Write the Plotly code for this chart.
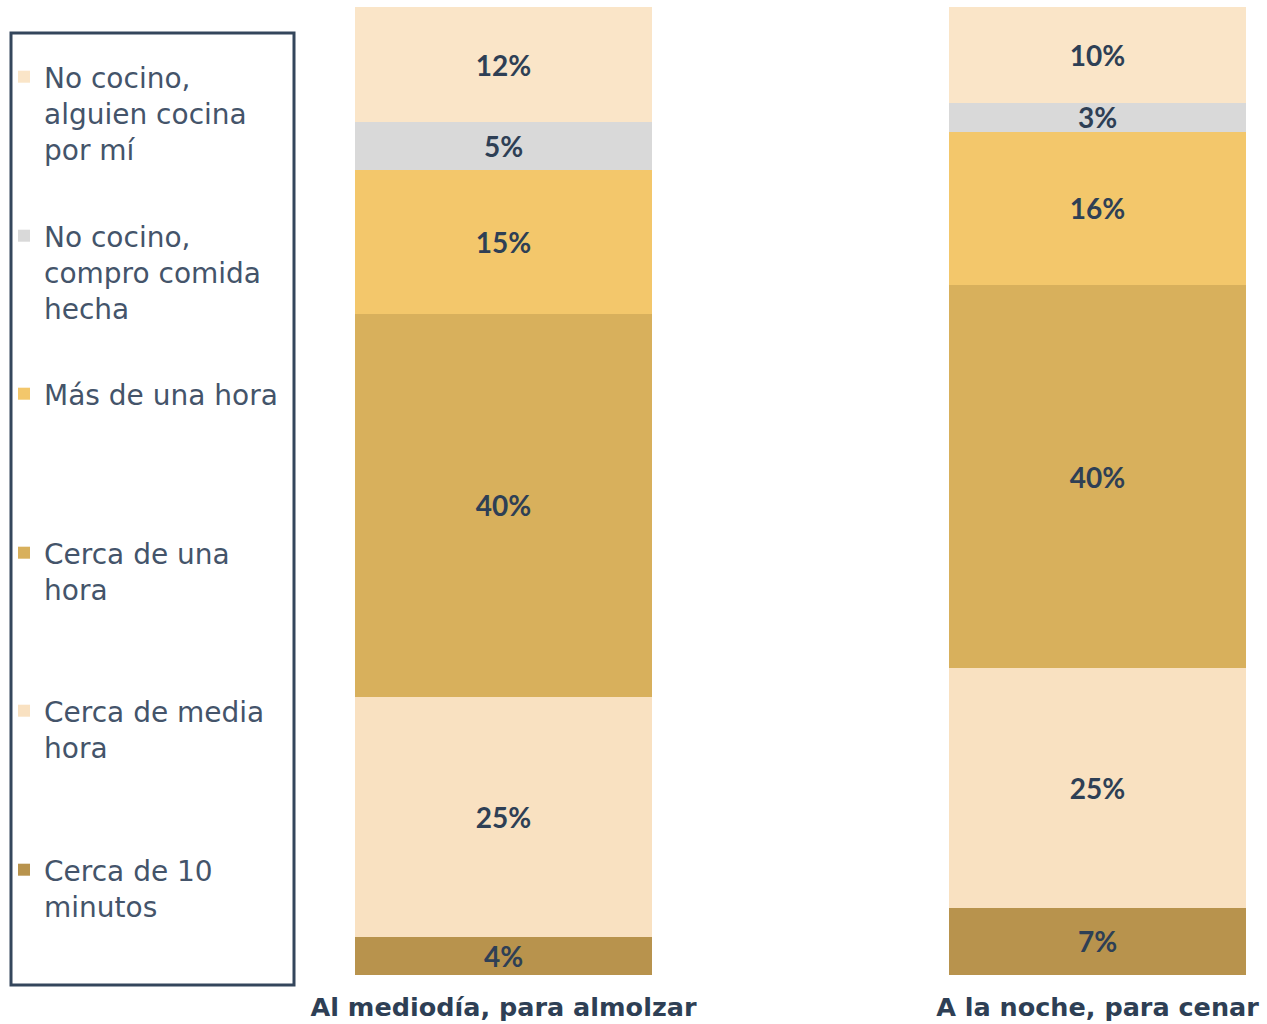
import plotly.graph_objects as go

# Meal moments shown as stacked bars
categories = ["Al mediodía, para almolzar", "A la noche, para cenar"]

# Answers stacked from the bottom of each bar to the top
series_names = [
    "Cerca de 10<br>minutos",
    "Cerca de media<br>hora",
    "Cerca de una<br>hora",
    "Más de una hora",
    "No cocino,<br>compro comida<br>hecha",
    "No cocino,<br>alguien cocina<br>por mí",
]
mediodia = [4, 25, 40, 15, 5, 12]
noche = [7, 25, 40, 16, 3, 10]

colors = ["#B8934D", "#F9E1C1", "#D8B05C", "#F3C76B", "#D9D9D9", "#FAE5C8"]

W, H = 1267, 1024
ML, MR, MT, MB = 300, 0, 7, 49
PW, PH = W - ML - MR, H - MT - MB

def px_x(x):
    return (x - ML) / PW

def px_y(y):
    return (H - MB - y) / PH

label_color = "#2E3F55"
legend_color = "#44546A"
label_font = "Lato, 'Open Sans', sans-serif"
wide_font = "'DejaVu Sans', Verdana, sans-serif"

# First-line centres of the legend entries, top to bottom
legend_line_y = [78, 237, 395, 554, 712, 871]

fig = go.Figure()
n = len(series_names)
for i, name in enumerate(series_names):
    vals = [mediodia[i], noche[i]]
    leg_id = "legend" if i == 0 else f"legend{i + 1}"
    fig.add_trace(go.Bar(
        x=categories,
        y=vals,
        name=name,
        marker=dict(color=colors[i], line=dict(width=0)),
        text=[f"{v}%" for v in vals],
        textposition="inside",
        insidetextanchor="middle",
        constraintext="none",
        textfont=dict(family=label_font, size=28, color=label_color, weight="bold"),
        width=0.5,
        legend=leg_id,
        hoverinfo="skip",
    ))

layout_legends = {}
for i in range(n):
    leg_id = "legend" if i == 0 else f"legend{i + 1}"
    top_px = legend_line_y[n - 1 - i] - 26
    layout_legends[leg_id] = dict(
        x=px_x(4),
        y=px_y(top_px),
        xanchor="left",
        yanchor="top",
        valign="top",
        bgcolor="rgba(0,0,0,0)",
        borderwidth=0,
        font=dict(family=wide_font, size=28, color=legend_color),
        itemwidth=30,
    )

fig.update_layout(
    width=W,
    height=H,
    margin=dict(l=ML, r=MR, t=MT, b=MB, pad=0),
    barmode="stack",
    plot_bgcolor="white",
    paper_bgcolor="white",
    showlegend=True,
    xaxis=dict(
        range=[-(503.5 - ML) / 594, (W - 503.5) / 594],
        showgrid=False,
        zeroline=False,
        showline=False,
        ticks="",
        ticklabelstandoff=14,
        tickfont=dict(family=wide_font, size=25.5, color=label_color, weight="bold"),
    ),
    yaxis=dict(
        range=[0, 101],
        visible=False,
    ),
    shapes=[dict(
        type="rect", xref="paper", yref="paper",
        x0=px_x(11), x1=px_x(294), y0=px_y(985), y1=px_y(33),
        line=dict(color="#34465C", width=3),
        fillcolor="rgba(0,0,0,0)",
        layer="above",
    )],
    **layout_legends,
)

fig.write_html("out.html")
